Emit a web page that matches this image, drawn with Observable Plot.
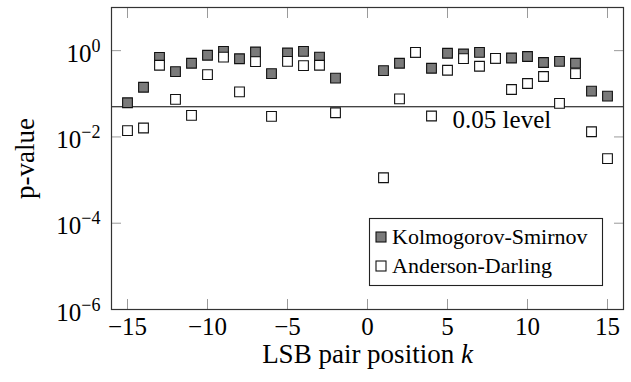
<!DOCTYPE html>
<html><head><meta charset="utf-8">
<script src="https://cdn.jsdelivr.net/npm/d3@7"></script>
<script src="https://cdn.jsdelivr.net/npm/@observablehq/plot@0.6"></script>
<style>body{margin:0;background:#fff} svg{display:block}</style>
</head><body><div id="chart"></div>
<script>
// ---- data ----
const positions = [-15,-14,-13,-12,-11,-10,-9,-8,-7,-6,-5,-4,-3,-2,1,2,3,4,5,6,7,8,9,10,11,12,13,14,15];
const ksValues = [0.062,0.142,0.70,0.327,0.51,0.78,0.96,0.65,0.93,0.294,0.88,0.96,0.71,0.23,
                  0.345,0.51,0.90,0.39,0.87,0.835,0.91,0.66,0.675,0.73,0.53,0.566,0.51,0.115,0.088];
const adValues = [0.0140,0.0161,0.458,0.074,0.0316,0.279,0.71,0.111,0.557,0.030,0.566,0.45,0.458,0.0363,
                  0.00113,0.0764,0.91,0.0305,0.351,0.654,0.434,0.664,0.126,0.173,0.251,0.0598,0.294,0.0132,0.00315];
const seriesNames = ["Kolmogorov-Smirnov","Anderson-Darling"];
const xTicks = [-15,-10,-5,0,5,10,15];
const yTicks = [1,1e-2,1e-4,1e-6];
const yTickExponents = ["0","−2","−4","−6"];
const thresholdValue = 0.05;
const thresholdLabel = "0.05 level";
const annotation = [{k: 8.4, p: thresholdValue, text: thresholdLabel}];
const xLabel = "LSB pair position ";
const xLabelVar = "k";
const yLabel = "p-value";

const table = positions.map((k, i) => ({k, ks: ksValues[i], ad: adValues[i]}));
const font = "'Liberation Serif', 'Times New Roman', serif";
const tickGray = "#9a9a9a";
const ksFill = "#7a7a7a";

const chart = Plot.plot({
  width: 631, height: 382,
  marginLeft: 111, marginRight: 8, marginTop: 7, marginBottom: 73,
  style: {fontFamily: font, fontSize: "25px", color: "#000", background: "#fff"},
  x: {domain: [-16, 16]},
  y: {type: "log", domain: [1e-6, 10]},
  marks: [
    Plot.axisX({ticks: xTicks, anchor: "bottom", tickSize: -10, stroke: tickGray, fill: "none", label: null}),
    Plot.axisX({ticks: xTicks, anchor: "top", tickSize: -10, stroke: tickGray, fill: "none", label: null}),
    Plot.axisY({ticks: yTicks, anchor: "left", tickSize: -10, stroke: tickGray, fill: "none", label: null}),
    Plot.axisY({ticks: yTicks, anchor: "right", tickSize: -10, stroke: tickGray, fill: "none", label: null}),
    Plot.axisX({ticks: xTicks, anchor: "bottom", tickSize: 0, tickPadding: 8, label: null,
                tickFormat: d => (d < 0 ? "−" + (-d) : String(d)), fontSize: 25}),
    Plot.axisY({ticks: yTicks, anchor: "left", tickSize: 0, tickPadding: 11, label: null, dy: 3,
                tickFormat: d => "10" + yTickExponents[yTicks.indexOf(d)], fontSize: 25}),
    Plot.text([yLabel], {frameAnchor: "left", dx: -86, rotate: -90, text: d => d, fontSize: 27, textAnchor: "middle"}),
    Plot.text([xLabel], {frameAnchor: "bottom", dy: 53, text: d => d, fontSize: 27, textAnchor: "middle", className: "xlab"}),
    Plot.ruleY([thresholdValue], {stroke: "#000", strokeWidth: 1}),
    Plot.text(annotation, {x: "k", y: "p", text: "text", dy: 13, fontSize: 25}),
    Plot.dot(table, {x: "k", y: "ks", symbol: "square", r: 5.5, fill: ksFill, stroke: "#111", strokeWidth: 1.1}),
    Plot.dot(table, {x: "k", y: "ad", symbol: "square", r: 5.5, fill: "#fff", stroke: "#111", strokeWidth: 1.1}),
    Plot.frame({stroke: "#333", strokeWidth: 1.2})
  ]
});
document.getElementById("chart").appendChild(chart);

const svg = d3.select(chart);
// superscript exponents on y tick labels
svg.selectAll('g[aria-label="y-axis tick label"] text').each(function() {
  const t = d3.select(this);
  const s = t.text();
  const exp = s.slice(2);
  t.text("");
  t.append("tspan").text("10");
  t.append("tspan").attr("dy", "-0.55em").attr("font-size", "0.72em").text(exp);
});
// italic variable in x label
svg.selectAll(".xlab text").each(function() {
  d3.select(this).append("tspan").attr("font-style", "italic").text(xLabelVar);
});

// legend
const legendStyles = [{fill: ksFill}, {fill: "#fff"}];
const lg = svg.append("g").attr("font-family", font).attr("font-size", 22).attr("text-anchor", "start");
lg.append("rect").attr("x", 369.5).attr("y", 218.5).attr("width", 233).attr("height", 67)
  .attr("fill", "#fff").attr("stroke", "#222").attr("stroke-width", 1.1);
seriesNames.forEach((name, i) => {
  const cy = 237 + i * 29;
  lg.append("rect").attr("x", 376).attr("y", cy - 5).attr("width", 10).attr("height", 10)
    .attr("fill", legendStyles[i].fill).attr("stroke", "#111").attr("stroke-width", 1.1);
  lg.append("text").attr("x", 392).attr("y", cy).attr("dy", "0.3em").text(name);
});
</script></body></html>
